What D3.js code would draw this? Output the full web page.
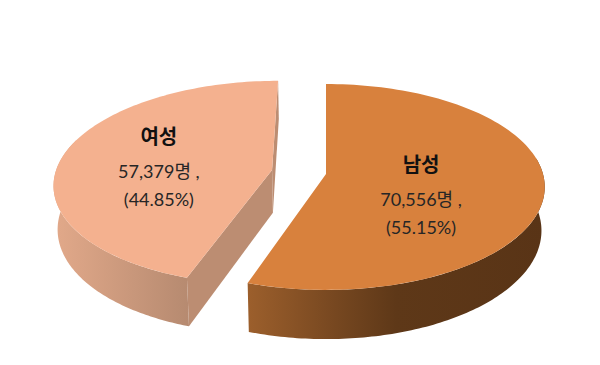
<!DOCTYPE html>
<html>
<head>
<meta charset="utf-8">
<script src="https://cdn.jsdelivr.net/npm/d3@7"></script>
<style>
	html, body { margin: 0; padding: 0; background: #fff; }
	svg { display: block; }
	text { font-family: Lato, "Noto Sans CJK KR", sans-serif; fill: #262626; text-anchor: middle; }
</style>
</head>
<body>
<div id="chart"></div>
<script>
	// values as printed on the chart
	const genders = ['남성', '여성'];
	const counts = [70556, 57379];
	const shares = ['55.15%', '44.85%'];

	const width = 600;
	const height = 365;

	// perspective of the tilted disc
	const centerX = 326;
	const centerY = 174;
	const radiusX = 217;
	const radiusY = 101.3;
	const tilt = 0.126;
	const depth = 43;
	const baseShrink = 0.985;
	const explode = [0, 0.253];
	const labelSpot = [
		{along: 0.44, dy: 18},
		{along: 0.54, dy: 10},
	];

	const topColors = ['#d8813d', '#f4b18f'];
	const cutColor = '#bc8d72';
	const wallStops = [
		[[0, '#9c5f2c'], [0.3, '#764720'], [0.5, '#5e3818'], [1, '#593416']],
		[[0, '#e2a98a'], [1, '#b68a70']],
	];

	// disc coordinates (u right, v away from viewer) to the screen, z = 1 is the base plane
	const project = (u, v, z = 0) => {
		const w = 1 + tilt * v;
		const shrink = 1 - (1 - baseShrink) * z;
		return [
			centerX + radiusX * u * shrink / w,
			centerY - radiusY * v / w + z * depth / w,
		];
	};

	const slices = d3.pie().sort(null)(counts).map((d, i) => {
		const mid = (d.startAngle + d.endAngle) / 2;
		return {
			index: i,
			start: d.startAngle,
			end: d.endAngle,
			mid: mid,
			ox: Math.sin(mid) * explode[i],
			oy: Math.cos(mid) * explode[i],
		};
	});

	const rimPoint = (s, a, z) => project(s.ox + Math.sin(a), s.oy + Math.cos(a), z);
	const apex = (s, z) => project(s.ox, s.oy, z);
	const line = d3.line();

	const rim = (s, from, to, z) => d3.range(0, 121).map(k => rimPoint(s, from + (to - from) * k / 120, z));

	const svg = d3.select('#chart')
		.append('svg')
		.attr('width', width)
		.attr('height', height);

	const defs = svg.append('defs');

	// female slice first, then male
	[slices[1], slices[0]].forEach(s => {
		const g = svg.append('g');

		// outer wall, only the part facing the viewer
		const wallFrom = s.index === 0 ? 0.45 * Math.PI : s.start;
		const wallTo = s.index === 0 ? s.end : 1.6 * Math.PI;
		const upper = rim(s, wallFrom, wallTo, 0);
		const lower = rim(s, wallFrom, wallTo, 1);
		const xs = upper.concat(lower).map(p => p[0]);

		const grad = defs.append('linearGradient')
			.attr('id', `wall-${s.index}`)
			.attr('gradientUnits', 'userSpaceOnUse')
			.attr('x1', d3.min(xs))
			.attr('x2', d3.max(xs))
			.attr('y1', 0)
			.attr('y2', 0);
		grad.selectAll('stop')
			.data(wallStops[s.index])
			.enter()
			.append('stop')
			.attr('offset', d => d[0])
			.attr('stop-color', d => d[1]);

		g.append('path')
			.attr('d', line(upper.concat(lower.reverse())) + 'Z')
			.style('fill', `url(#wall-${s.index})`);

		// cut faces are only visible on the exploded slice
		if (s.index === 1) {
			[s.start, s.end].forEach(a => {
				g.append('path')
					.attr('d', line([apex(s, 0), rimPoint(s, a, 0), rimPoint(s, a, 1), apex(s, 1)]) + 'Z')
					.style('fill', cutColor);
			});
		}

		// top face
		g.append('path')
			.attr('d', line([apex(s, 0)].concat(rim(s, s.start, s.end, 0))) + 'Z')
			.style('fill', topColors[s.index]);

		// labels
		const spot = labelSpot[s.index];
		const pos = project(s.ox + Math.sin(s.mid) * spot.along, s.oy + Math.cos(s.mid) * spot.along);
		const label = g.append('text')
			.attr('transform', `translate(${pos[0]}, ${pos[1] + spot.dy})`);
		label.append('tspan')
			.attr('x', 0)
			.attr('y', -27)
			.style('font-size', '20px')
			.style('font-weight', 700)
			.style('fill', '#111')
			.text(genders[s.index]);
		label.append('tspan')
			.attr('x', 0)
			.attr('y', 7)
			.style('font-size', '18px')
			.text(`${d3.format(',')(counts[s.index])}명 ,`);
		label.append('tspan')
			.attr('x', 0)
			.attr('y', 35)
			.style('font-size', '18px')
			.text(`(${shares[s.index]})`);
	});
</script>
</body>
</html>
